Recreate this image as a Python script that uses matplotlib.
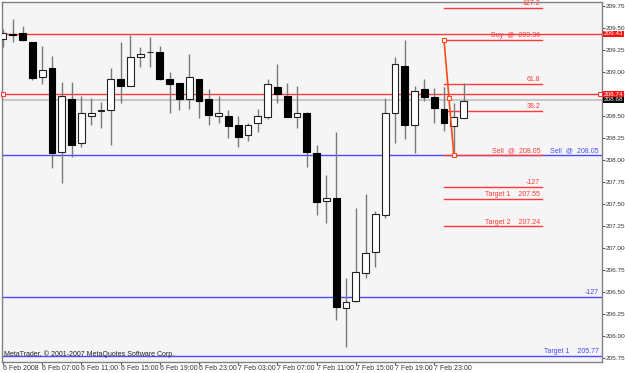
import numpy as np
import matplotlib
matplotlib.use("Agg")
import matplotlib.pyplot as plt
import matplotlib.transforms as mtransforms

plt.rcParams['font.family'] = ['Liberation Sans', 'DejaVu Sans']

# hourly bars, 6 Feb 2008 03:00 onwards
opens = [209.37, 209.43, 209.44, 209.34, 208.94, 209.04, 208.09, 208.69, 208.19, 208.50,
         208.55, 208.56, 208.91, 208.84, 209.17, 209.22, 209.22, 208.91, 208.87, 208.69,
         208.92, 208.69, 208.50, 208.50, 208.39, 208.28, 208.41, 208.48, 208.82, 208.72,
         208.48, 208.53, 208.08, 207.53, 207.56, 206.31, 206.39, 206.71, 206.95, 207.37,
         208.53, 209.06, 208.39, 208.80, 208.71, 208.58, 208.38, 208.47]
highs = [209.48, 209.60, 209.52, 209.34, 209.29, 209.18, 208.88, 208.88, 208.72, 208.70,
         208.65, 209.04, 209.33, 209.42, 209.28, 209.39, 209.29, 209.00, 208.87, 209.20,
         208.92, 208.80, 208.72, 208.56, 208.50, 208.41, 208.57, 208.92, 209.08, 208.87,
         208.83, 208.54, 208.17, 207.82, 208.31, 206.65, 207.45, 207.61, 207.41, 208.70,
         209.17, 209.36, 208.84, 208.92, 208.81, 208.82, 208.64, 208.87]
lows = [209.28, 209.34, 209.35, 208.90, 208.86, 207.90, 207.73, 208.03, 208.14, 208.39,
        208.36, 208.17, 208.64, 208.84, 209.05, 209.05, 208.90, 208.53, 208.56, 208.57,
        208.47, 208.39, 208.41, 208.25, 208.14, 208.21, 208.31, 208.46, 208.64, 208.48,
        208.36, 207.91, 207.37, 207.28, 206.18, 205.87, 206.38, 206.65, 206.78, 207.34,
        208.19, 208.23, 208.07, 208.67, 208.42, 208.33, 208.07, 208.47]
closes = [209.44, 209.42, 209.36, 208.93, 209.02, 208.07, 208.72, 208.17, 208.53, 208.53,
          208.56, 208.92, 208.83, 209.16, 209.20, 209.22, 208.91, 208.86, 208.69, 208.94,
          208.67, 208.51, 208.53, 208.38, 208.26, 208.39, 208.50, 208.86, 208.75, 208.48,
          208.53, 208.09, 207.52, 207.56, 206.32, 206.38, 206.72, 206.94, 207.38, 208.53,
          209.08, 208.39, 208.78, 208.71, 208.59, 208.41, 208.48, 208.67]

time_labels = ["6 Feb 2008", "6 Feb 07:00", "6 Feb 11:00", "6 Feb 15:00", "6 Feb 19:00",
               "6 Feb 23:00", "7 Feb 03:00", "7 Feb 07:00", "7 Feb 11:00", "7 Feb 15:00",
               "7 Feb 19:00", "7 Feb 23:00"]

# horizontal lines
buy_level = 209.43
line_level = 208.74
bid_level = 208.68
sell_level = 208.05
blue_ext = 206.44
blue_target = 205.77

# fibo object (red)
fib_prices = [209.72, 209.36, 208.86, 208.55, 208.05, 207.69, 207.55, 207.24]
fib_texts = ["127.2", "Buy  @  209.36", "61.8", "38.2", "Sell  @  208.05", "-127",
             "Target 1    207.55", "Target 2    207.24"]
trend_x = [45, 46]
trend_y = [209.36, 208.05]

red = '#FF3A3A'
blue = '#4A4AFF'
fs = 5

fig = plt.figure(figsize=(6.25, 3.73), dpi=100)
ax = fig.add_axes([2/625, 1-362/373, 600/625, 360/373])
ax.set_facecolor('#F5F5F5')

x = np.arange(len(opens))
o = np.array(opens)
c = np.array(closes)

# wicks
ax.vlines(x, lows, highs, color='#7A7A7A', lw=1, zorder=3)
# bodies
for i in range(len(x)):
    bottom = min(o[i], c[i])
    height = max(abs(c[i] - o[i]), 0.004)
    if c[i] < o[i]:
        ax.bar(x[i], height, 0.68, bottom, color='black', edgecolor='black', lw=0.8, zorder=4)
    else:
        ax.bar(x[i], height, 0.68, bottom, color='white', edgecolor='#222222', lw=0.8, zorder=4)

# full width lines
ax.axhline(buy_level, color=red, lw=1, zorder=2)
ax.axhline(line_level, color=red, lw=1, zorder=2)
ax.axhline(bid_level, color='#C8C8C8', lw=1.5, zorder=1)
ax.axhline(sell_level, color=blue, lw=1, zorder=2)
ax.axhline(blue_ext, color=blue, lw=1, zorder=2)
ax.axhline(blue_target, color=blue, lw=1, zorder=2)
ax.plot([0, 60.9], [line_level, line_level], ls='none', marker='s', ms=3,
        mfc='white', mec=red, mew=0.8, zorder=5, clip_on=False)

# fibo lines
for p, t in zip(fib_prices, fib_texts):
    ax.plot([45, 55], [p, p], color=red, lw=1, zorder=2)
    ax.text(54.8, p + 0.01, t, color=red, fontsize=fs, ha='right', va='bottom', zorder=6)
ax.plot(trend_x, trend_y, color='#FF4A1A', lw=1.2, zorder=6)
ax.plot([trend_x[0], np.mean(trend_x), trend_x[1]],
        [trend_y[0], np.mean(trend_y), trend_y[1]], ls='none', marker='s', ms=3,
        mfc='white', mec='#FF4A1A', mew=0.8, zorder=7)

# blue labels
ax.text(60.8, sell_level + 0.01, "Sell  @  208.05", color=blue, fontsize=fs, ha='right', va='bottom')
ax.text(60.8, blue_ext + 0.01, "-127", color=blue, fontsize=fs, ha='right', va='bottom')
ax.text(60.8, blue_target + 0.01, "Target 1    205.77", color=blue, fontsize=fs, ha='right', va='bottom')

ax.text(0.003, 0.012, "MetaTrader, \u00a9 2001-2007 MetaQuotes Software Corp.", transform=ax.transAxes,
        fontsize=fs, color='#222222', ha='left', va='bottom')

ax.set_xlim(-0.1, 61.12)
ax.set_ylim(205.70, 209.79)

ax.set_xticks(np.arange(0, 48, 4))
ax.set_xticklabels(time_labels)
plt.setp(ax.get_xticklabels(), ha='left')
ax.yaxis.tick_right()
ax.set_yticks(np.arange(205.75, 209.76, 0.25))
ax.set_yticklabels(['%.2f' % v for v in np.arange(205.75, 209.76, 0.25)])
ax.tick_params(axis='both', labelsize=fs, colors='#555555', length=3, width=0.8, pad=1.5,
               labelcolor='#333333')
ax.tick_params(axis='x', length=2, pad=0.5)
ax.tick_params(axis='y', length=2, pad=1, labelsize=4.6)
for s in ax.spines.values():
    s.set_color('#808080')
    s.set_linewidth(1)

# price tags on the axis
trans = mtransforms.blended_transform_factory(ax.transAxes, ax.transData)
for p, bg in [(buy_level, '#FF1010'), (line_level, '#FF1010'), (bid_level, 'black')]:
    ax.text(1.003, p, '%.2f' % p, transform=trans, fontsize=4.6, color='white', ha='left',
            va='center', bbox=dict(boxstyle='square,pad=0.1', fc=bg, ec='none'), zorder=10,
            clip_on=False)

fig.savefig('out.png', dpi=100, facecolor='white')
